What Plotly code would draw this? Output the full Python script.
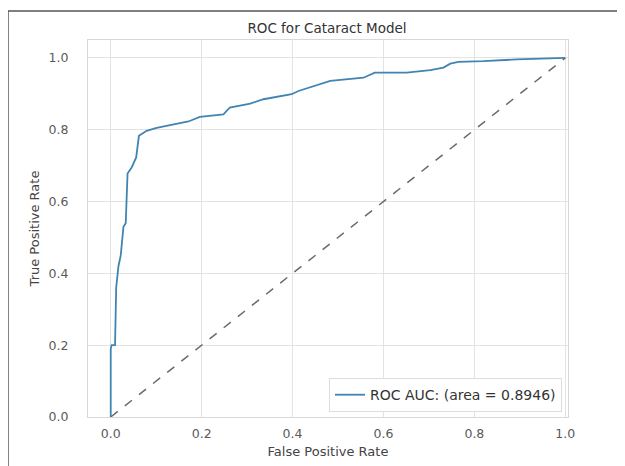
import plotly.graph_objects as go

fpr = [0.0, 0.0, 0.002, 0.0095, 0.012, 0.017, 0.022, 0.028, 0.033, 0.035, 0.037, 0.046, 0.056, 0.062,
       0.079, 0.101, 0.13, 0.171, 0.196, 0.248, 0.262, 0.299, 0.307, 0.336, 0.398, 0.413,
       0.468, 0.483, 0.556, 0.581, 0.651, 0.703, 0.732, 0.747, 0.765, 0.82, 0.893, 0.996, 1.0]
tpr = [0.0, 0.19, 0.2, 0.2, 0.36, 0.42, 0.45, 0.53, 0.54, 0.6, 0.678, 0.695, 0.723, 0.783,
       0.797, 0.805, 0.813, 0.823, 0.836, 0.843, 0.862, 0.871, 0.873, 0.885, 0.899, 0.908,
       0.931, 0.936, 0.945, 0.959, 0.959, 0.966, 0.973, 0.984, 0.989, 0.991, 0.996, 0.998, 1.0]
diag = [0.0, 1.0]
ticks = [0.0, 0.2, 0.4, 0.6, 0.8, 1.0]
tick_labels = ["0.0", "0.2", "0.4", "0.6", "0.8", "1.0"]
auc_label = "ROC AUC: (area = 0.8946)"

FONT = "DejaVu Sans"

fig = go.Figure()
fig.add_trace(go.Scatter(x=fpr, y=tpr, mode="lines", name=auc_label,
                         line=dict(color="#4184b2", width=1.8)))
fig.add_trace(go.Scatter(x=diag, y=diag, mode="lines", showlegend=False,
                         line=dict(color="#6a6a6a", width=1.5, dash="dash")))

axis_common = dict(showgrid=True, gridcolor="#e3e3e3", gridwidth=1, zeroline=False,
                   showline=True, linecolor="#d8d8d8", linewidth=1, mirror=True,
                   tickfont=dict(family=FONT, size=12.5, color="#5a5a5a"),
                   ticks="", automargin=False)
fig.update_xaxes(range=[-0.05, 1.006], tickvals=ticks, ticktext=tick_labels,
                 ticklabelstandoff=5,
                 title=dict(text="False Positive Rate", standoff=6,
                            font=dict(family=FONT, size=13, color="#444444")),
                 **axis_common)
fig.update_yaxes(range=[0.0, 1.05], tickvals=ticks, ticktext=tick_labels,
                 ticklabelstandoff=16,
                 title=dict(text="True Positive Rate", standoff=6,
                            font=dict(family=FONT, size=13, color="#444444")),
                 **axis_common)

# the page body adds an 8px offset, so the figure is drawn 8px smaller
fig.update_layout(
    width=617, height=458,
    margin=dict(l=80, r=57, t=32, b=49),
    paper_bgcolor="white", plot_bgcolor="white",
    title=dict(text="ROC for Cataract Model", x=(327 - 8) / 617, xanchor="center",
               y=1 - 20 / 458, yanchor="middle", yref="container",
               font=dict(family=FONT, size=13.5, color="#333333")),
    legend=dict(x=0.9875, xanchor="right", y=0.013, yanchor="bottom",
                bgcolor="white", bordercolor="#dddddd", borderwidth=1,
                font=dict(family=FONT, size=14, color="#333333")),
    shapes=[
        dict(type="line", xref="paper", yref="paper", x0=-0.1667, x1=-0.1667, y0=1.0769, y1=-0.2,
             line=dict(color="#555555", width=1.5)),
        dict(type="line", xref="paper", yref="paper", x0=-0.1667, x1=1.2, y0=1.0769, y1=1.0769,
             line=dict(color="#555555", width=1.5)),
    ],
)

fig.write_html("out.html")
